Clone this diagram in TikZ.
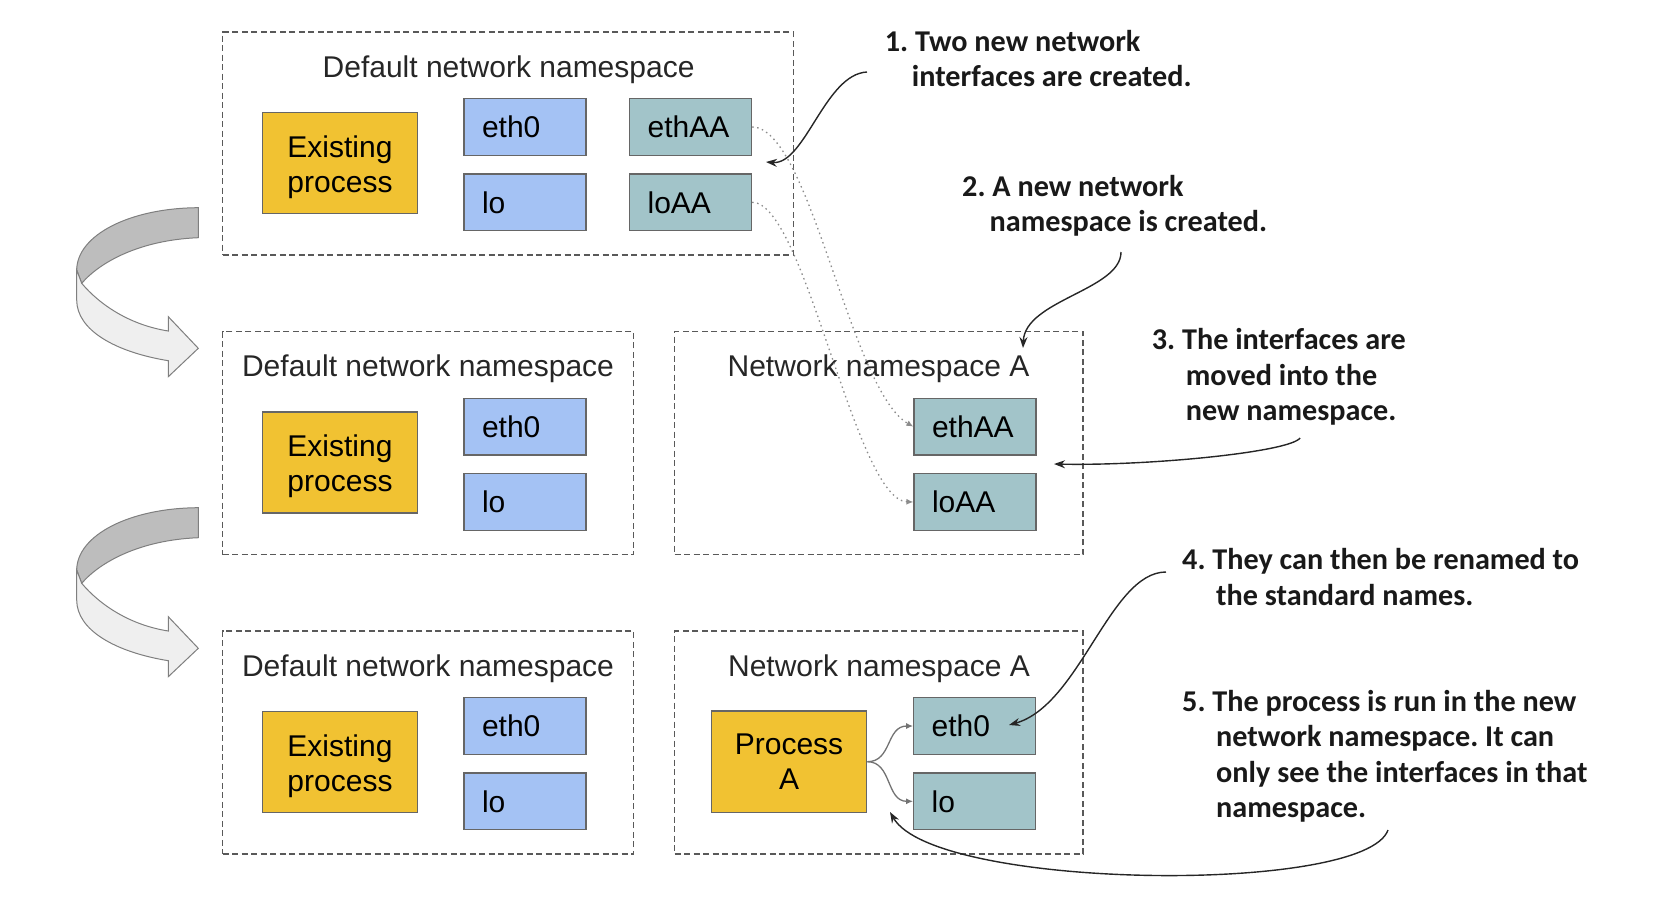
\documentclass[tikz,border=0pt]{standalone}
\usepackage{fontspec}
\setmainfont{Liberation Sans}
\newfontfamily\callfont{Carlito}
\usetikzlibrary{arrows.meta}
\definecolor{procyellow}{HTML}{F1C232}
\definecolor{ifblue}{HTML}{A4C2F4}
\definecolor{ifteal}{HTML}{A2C4C9}
\definecolor{boxline}{HTML}{595959}
\definecolor{arrdark}{HTML}{BDBDBD}
\definecolor{arrlight}{HTML}{EFEFEF}
\definecolor{arredge}{HTML}{7F7F7F}
\frenchspacing
\begin{document}
\begin{tikzpicture}[x=1pt,y=-1pt,
  container/.style={draw=boxline, dash pattern=on 6pt off 3.5pt, line width=1.2pt, inner sep=0pt, minimum height=223pt},
  nstitle/.style={font=\fontsize{30}{34}\selectfont, text=black!85, anchor=base, inner sep=0pt},
  procbox/.style={draw=black!60, fill=procyellow, line width=1.2pt, minimum width=155pt, minimum height=101pt, inner sep=0pt, align=center, font=\fontsize{30}{35}\selectfont},
  ifbox/.style={draw=black!60, line width=1.2pt, inner xsep=18pt, inner ysep=0pt, text width=86pt, minimum height=56.6pt, align=left, font=\fontsize{30}{34}\selectfont},
  blueif/.style={ifbox, fill=ifblue},
  tealif/.style={ifbox, fill=ifteal},
  callout/.style={font=\callfont\bfseries\fontsize{30.2}{35.5}\selectfont, align=left, anchor=north west, inner sep=0pt, text=black!90},
  callarrow/.style={draw=black!85, line width=1.4pt, -{Stealth[length=11pt, width=8pt]}},
  moveline/.style={draw=black!45, line width=1.3pt, dash pattern=on 1.5pt off 3.5pt, -{Latex[length=7pt, width=6pt]}},
  procline/.style={draw=black!55, line width=1.3pt, -{Latex[length=7pt, width=6pt]}},
  uturn/.pic={
    \filldraw[fill=arrdark, draw=arredge, line width=1pt]
      (198.3,207.7) .. controls (130,208) and (77,235) .. (76.7,270)
      -- (81.7,283.3) .. controls (100,262) and (140,240) .. (198.3,237.7) -- cycle;
    \filldraw[fill=arrlight, draw=arredge, line width=1pt, line join=miter]
      (81.7,283.3) .. controls (100,305) and (130,325) .. (168.3,331)
      -- (168.3,316.7) -- (198.3,348.3) -- (168.3,376.7) -- (168.3,360.7)
      .. controls (115,352) and (76.7,330) .. (76.7,300) -- (76.7,270) -- cycle;
  }]
\useasboundingbox (0,0) rectangle (1670,898);

% ---- curved transition arrows
\pic at (0,0) {uturn};
\pic at (0,300) {uturn};

% ---- row 1
\node[container, minimum width=570.7pt] (c1) at (508.05,143.5) {};
\node[nstitle] (t1) at (508.6,77) {Default network namespace};
\node[procbox] (p1) at (340,162.8) {\rule{0pt}{30pt}Existing\\process};
\node[blueif] (e1) at (525,127) {eth0};
\node[blueif] (l1) at (525,202.3) {lo};
\node[tealif] (ea1) at (690.6,127) {ethAA};
\node[tealif] (la1) at (690.6,202.3) {loAA};

% ---- row 2
\node[container, minimum width=411.1pt] (c2) at (428.25,443.2) {};
\node[nstitle] (t2) at (428,376.5) {Default network namespace};
\node[procbox] (p2) at (340,462.5) {\rule{0pt}{30pt}Existing\\process};
\node[blueif] (e2) at (525,426.7) {eth0};
\node[blueif] (l2) at (525,502) {lo};
\node[container, minimum width=408.5pt] (c3) at (878.75,443.2) {};
\node[nstitle] (t3) at (878.5,376.5) {Network namespace A};
\node[tealif] (ea2) at (975,426.7) {ethAA};
\node[tealif] (la2) at (975,502) {loAA};

% ---- row 3
\node[container, minimum width=411.1pt] (c4) at (428.25,742.5) {};
\node[nstitle] (t4) at (428,676) {Default network namespace};
\node[procbox] (p3) at (340,761.8) {\rule{0pt}{30pt}Existing\\process};
\node[blueif] (e3) at (525,726) {eth0};
\node[blueif] (l3) at (525,801.3) {lo};
\node[container, minimum width=408.5pt] (c5) at (878.75,742.5) {};
\node[nstitle] (t5) at (879,676) {Network namespace A};
\node[procbox, minimum width=155.6pt, minimum height=101.3pt] (pa) at (789,761.7) {Process\\A};
\node[tealif] (e4) at (974.7,726) {eth0};
\node[tealif] (l4) at (974.7,801.3) {lo};

% ---- interface moves (dotted)
\draw[moveline] (ea1.east) .. controls (810,127) and (850,390) .. (ea2.west);
\draw[moveline] (la1.east) .. controls (805,202.3) and (855,500) .. (la2.west);

% ---- process A sees interfaces
\draw[procline] (pa.east) .. controls (892,761.7) and (886,726) .. (e4.west);
\draw[procline] (pa.east) .. controls (892,761.7) and (886,801.3) .. (l4.west);

% ---- callouts
\node[callout] (n1) at (884.7,30) {1.~Two new network\\\hspace*{27pt}interfaces are created.};
\node[callout] (n2) at (962,175) {2.~A new network\\\hspace*{27.5pt}namespace is created.};
\node[callout] (n3) at (1151.7,328.3) {3.~The interfaces are\\\hspace*{34pt}moved into the\\\hspace*{34pt}new namespace.};
\node[callout] (n4) at (1182,548.3) {4.~They can then be renamed to\\\hspace*{34pt}the standard names.};
\node[callout] (n5) at (1182,690) {5.~The process is run in the new\\\hspace*{34pt}network namespace. It can\\\hspace*{34pt}only see the interfaces in that\\\hspace*{34pt}namespace.};

\coordinate (a1s) at (867,72);   \coordinate (a1e) at (766,162);
\coordinate (a2s) at (1121,252); \coordinate (a2e) at (1023,348);
\coordinate (a3s) at (1300,438); \coordinate (a3e) at (1054,464);
\coordinate (a4s) at (1166,572); \coordinate (a4e) at (1009,725);
\coordinate (a5s) at (1388,830); \coordinate (a5e) at (890,812);

\draw[callarrow] (a1s) .. controls (825,74) and (805,165) .. (a1e);
\draw[callarrow] (a2s) .. controls (1121,290) and (1025,300) .. (a2e);
\draw[callarrow] (a3s) .. controls (1290,452) and (1150,466) .. (a3e);
\draw[callarrow] (a4s) .. controls (1110,572) and (1080,705) .. (a4e);
\draw[callarrow] (a5s) .. controls (1365,895) and (935,890) .. (a5e);
\end{tikzpicture}
\end{document}
